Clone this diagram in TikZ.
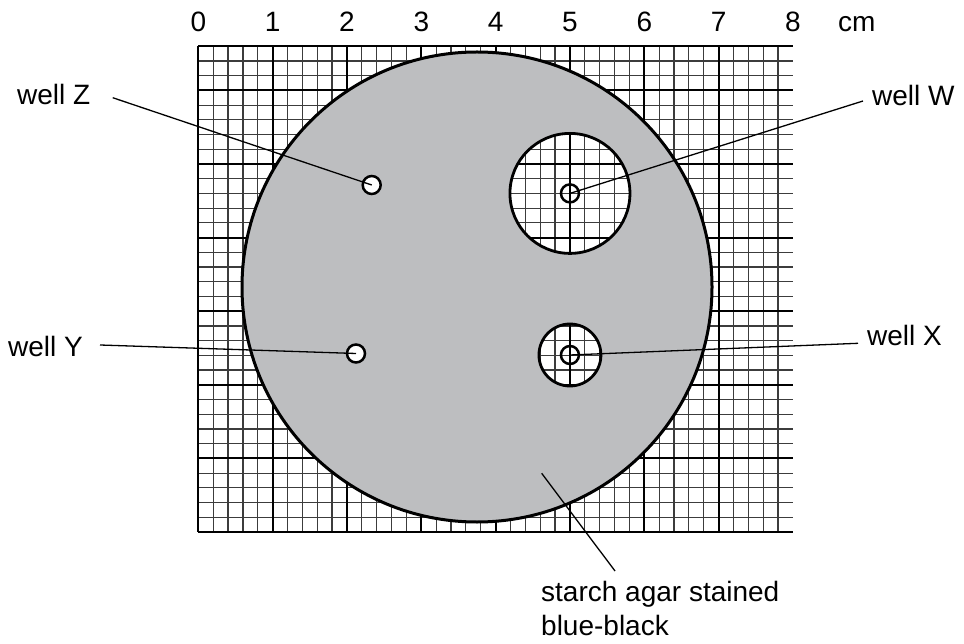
\documentclass[tikz,border=0pt]{standalone}
\usepackage{fontspec}
\setmainfont{Liberation Sans}
\definecolor{agar}{RGB}{189,190,192}
\definecolor{minorc}{RGB}{60,60,60}
\newcommand\mygrid{%
  \foreach \i in {0,...,39} \draw[minorline] ({198.3+\i*14.866},46.2) -- ({198.3+\i*14.866},532);
  \foreach \j in {0,...,33} \draw[minorline] (198.3,{532-\j*14.72}) -- (793,{532-\j*14.72});
  \foreach \i in {0,...,7} \draw[majorline] ({198.3+\i*74.33},46.2) -- ({198.3+\i*74.33},532);
  \foreach \j in {0,...,6} \draw[majorline] (198.3,{532-\j*73.6}) -- (793,{532-\j*73.6});
  \draw[majorline] (198.3,46.2) -- (793,46.2);
}
\begin{document}
\begin{tikzpicture}[x=1pt,y=-1pt,
  minorline/.style={draw=minorc,line width=1.2pt},
  majorline/.style={draw=black,line width=2pt},
  agarc/.style={fill=agar,draw=black,line width=3pt},
  zone/.style={draw=black,line width=2.8pt},
  well/.style={circle,draw=black,line width=2.5pt,inner sep=0pt,minimum size=18pt},
  pointer/.style={draw=black,line width=1.3pt},
  lbl/.style={font=\fontsize{28}{33}\selectfont,inner sep=0pt,anchor=base west},
  axlbl/.style={font=\fontsize{28}{33}\selectfont,inner sep=0pt,anchor=base}]
\useasboundingbox (0,0) rectangle (964,644);
\fill[white] (0,0) rectangle (964,644);
\mygrid
% agar plate
\draw[agarc] (477,287) circle[radius=235];
% clear zone W
\begin{scope}
  \clip (569.95,193.4) circle[radius=60];
  \fill[white] (569.95,193.4) circle[radius=60];
  \mygrid
\end{scope}
\draw[zone] (569.95,193.4) circle[radius=60];
% clear zone X
\begin{scope}
  \clip (569.95,355) circle[radius=31];
  \fill[white] (569.95,355) circle[radius=31];
  \mygrid
\end{scope}
\draw[zone] (569.95,355) circle[radius=31];
% wells
\node[well,fill=white] (wz) at (371.7,185) {};
\node[well,fill=white] (wy) at (356,353.5) {};
\node[well] (ww) at (569.95,193.4) {};
\node[well] (wx) at (569.95,355) {};
% axis labels
\foreach \i in {0,...,8} \node[axlbl] (ax\i) at ({198.3+\i*74.33},32) {\i};
\node[lbl] (cm) at (838,32) {cm};
% labels
\node[lbl] (lz) at (17,105) {well Z};
\node[lbl] (ly) at (8,356.5) {well Y};
\node[lbl] (lw) at (872,106) {well W};
\node[lbl] (lx) at (867,345) {well X};
\node[lbl] (ls1) at (541,601.7) {starch agar stained};
\node[lbl] (ls2) at (541,635) {blue-black};
% pointer ends
\coordinate (zs) at (112.7,97.7);
\coordinate (ys) at (100,345);
\coordinate (wsp) at (863,101);
\coordinate (xs) at (858,343.3);
\coordinate (ss) at (615,571);
\coordinate (sa) at (541.7,473.3);
\draw[pointer] (zs) -- (wz.center);
\draw[pointer] (ys) -- (wy.center);
\draw[pointer] (wsp) -- (ww.center);
\draw[pointer] (xs) -- (wx.center);
\draw[pointer] (ss) -- (sa);
\end{tikzpicture}
\end{document}
